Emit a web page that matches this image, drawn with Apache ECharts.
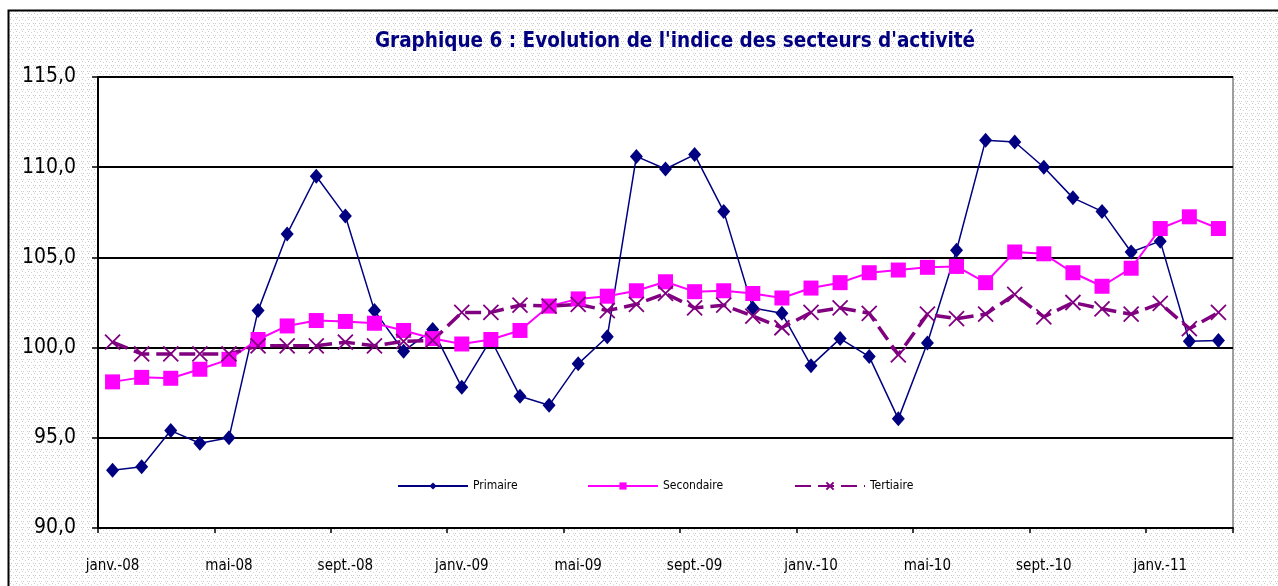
<!DOCTYPE html>
<html>
<head>
<meta charset="utf-8">
<script src="https://cdn.jsdelivr.net/npm/echarts@6/dist/echarts.min.js"></script>
<style>
html,body{margin:0;padding:0;background:#fff;}
#wrap{position:relative;width:1278px;height:586px;overflow:hidden;background:#fff;}
#bg{position:absolute;left:9px;top:11px;right:0;bottom:0;background-color:#fff;
background-image:url("data:image/svg+xml;utf8,<svg xmlns='http://www.w3.org/2000/svg' width='6' height='6'><rect x='0' y='0' width='1' height='1' fill='%23cccccc'/><rect x='2' y='0' width='1' height='1' fill='%23cccccc'/><rect x='1' y='2' width='1' height='1' fill='%23cccccc'/><rect x='4' y='3' width='1' height='1' fill='%23d4d4d4'/></svg>");}
#chart{position:absolute;left:0;top:0;width:1278px;height:586px;}
</style>
</head>
<body>
<div id="wrap"><div id="bg"></div><div id="chart"></div></div>
<script>
const categories = ['janv.-08','févr.-08','mars-08','avr.-08','mai-08','juin-08','juil.-08','août-08','sept.-08','oct.-08','nov.-08','déc.-08',
 'janv.-09','févr.-09','mars-09','avr.-09','mai-09','juin-09','juil.-09','août-09','sept.-09','oct.-09','nov.-09','déc.-09',
 'janv.-10','févr.-10','mars-10','avr.-10','mai-10','juin-10','juil.-10','août-10','sept.-10','oct.-10','nov.-10','déc.-10',
 'janv.-11','févr.-11','mars-11'];
const primaire = [93.2, 93.4, 95.4, 94.7, 95.0, 102.05, 106.3, 109.5, 107.3, 102.05, 99.8, 101.0, 97.8, 100.45, 97.3, 96.8, 99.1, 100.6, 110.6, 109.9, 110.7, 107.55, 102.2, 101.9, 99.0, 100.5, 99.5, 96.05, 100.25, 105.4, 111.5, 111.4, 110.0, 108.3, 107.55, 105.3, 105.9, 100.35, 100.4];
const secondaire = [98.1, 98.35, 98.3, 98.8, 99.35, 100.45, 101.2, 101.5, 101.45, 101.35, 100.95, 100.5, 100.2, 100.45, 100.95, 102.3, 102.7, 102.85, 103.15, 103.65, 103.1, 103.15, 103.0, 102.75, 103.3, 103.6, 104.15, 104.3, 104.45, 104.5, 103.6, 105.3, 105.2, 104.15, 103.4, 104.4, 106.6, 107.25, 106.6];
const tertiaire = [100.3, 99.65, 99.65, 99.65, 99.65, 100.1, 100.1, 100.1, 100.3, 100.1, 100.35, 100.4, 101.95, 101.95, 102.35, 102.3, 102.4, 102.05, 102.4, 103.0, 102.2, 102.35, 101.75, 101.1, 101.95, 102.2, 101.9, 99.6, 101.85, 101.6, 101.85, 102.95, 101.7, 102.5, 102.15, 101.85, 102.45, 101.05, 101.95];
const seriesNames = ['Primaire','Secondaire','Tertiaire'];
const yMin = 90, yMax = 115, yStep = 5;
const titleText = "Graphique 6 : Evolution de l'indice des secteurs d'activité";

const NARROW = "'Liberation Sans Narrow','Arial Narrow','DejaVu Sans Condensed',sans-serif";
const chart = echarts.init(document.getElementById('chart'), null, {renderer:'canvas'});
const legendCommon = {itemWidth:70, itemHeight:9, itemGap:0, padding:0,
  textStyle:{fontFamily:NARROW, fontSize:12, color:'#000'}};
chart.setOption({
  animation:false,
  backgroundColor:'transparent',
  title:{text:titleText, left:670, top:26, textAlign:'center',
    textStyle:{fontFamily:NARROW, fontWeight:'bold', fontSize:20.5, color:'#000080'}},
  graphic:[{type:'rect', shape:{x:8.5, y:10.5, width:1400, height:800},
    style:{fill:'none', stroke:'#000', lineWidth:2}, silent:true}],
  legend:[
    Object.assign({data:[seriesNames[0]], left:397, top:480}, legendCommon),
    Object.assign({data:[seriesNames[1]], left:587, top:480}, legendCommon),
    Object.assign({data:[seriesNames[2]], left:794, top:480}, legendCommon)
  ],
  grid:{left:98, right:45, top:77, bottom:58, show:true, backgroundColor:'#fff',
    borderColor:'#808080', borderWidth:1.5, containLabel:false},
  xAxis:{type:'category', data:categories, boundaryGap:true,
    axisLine:{lineStyle:{color:'#000', width:2}},
    axisTick:{show:true, interval:3, length:5, lineStyle:{color:'#000', width:1.5}},
    axisLabel:{interval:3, margin:31, fontFamily:NARROW, fontSize:15, color:'#000'},
    splitLine:{show:false}},
  yAxis:{type:'value', min:yMin, max:yMax, interval:yStep,
    axisLine:{show:true, lineStyle:{color:'#000', width:2}},
    axisTick:{show:true, length:6, lineStyle:{color:'#000', width:1.5}},
    axisLabel:{margin:22, fontFamily:NARROW, fontSize:21, color:'#000',
      formatter:v=>v.toFixed(1).replace('.',',')},
    splitLine:{lineStyle:{color:'#000', width:2}}},
  series:[
    {name:seriesNames[0], type:'line', data:primaire, symbol:'diamond', symbolSize:[13,15],
      lineStyle:{color:'#000080', width:1.5}, itemStyle:{color:'#000080'}},
    {name:seriesNames[1], type:'line', data:secondaire, symbol:'rect', symbolSize:15,
      lineStyle:{color:'#ff00ff', width:2}, itemStyle:{color:'#ff00ff'}},
    {name:seriesNames[2], type:'line', data:tertiaire, symbol:'path://M0,0L10,10M10,0L0,10', symbolSize:15,
      lineStyle:{color:'#800080', width:3.5, type:[16,7]},
      itemStyle:{color:'#800080', borderColor:'#800080', borderWidth:1.8}}
  ]
});
</script>
</body>
</html>
